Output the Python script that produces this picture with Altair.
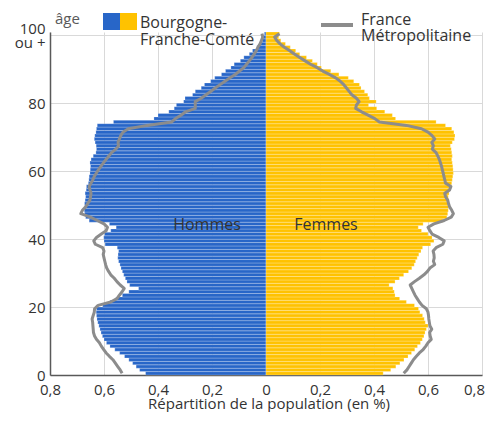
import altair as alt
import pandas as pd

ages = list(range(101))

hommes_bfc = [
    0.446, 0.468, 0.481, 0.494, 0.508, 0.524, 0.542, 0.560, 0.578, 0.591,
    0.600, 0.606, 0.611, 0.615, 0.619, 0.623, 0.626, 0.628, 0.629, 0.628,
    0.605, 0.578, 0.556, 0.532, 0.508, 0.472, 0.505, 0.515, 0.521, 0.527,
    0.532, 0.537, 0.541, 0.546, 0.549, 0.548, 0.546, 0.551, 0.596, 0.600,
    0.601, 0.598, 0.575, 0.555, 0.580, 0.655, 0.668, 0.672, 0.673, 0.671,
    0.672, 0.670, 0.668, 0.670, 0.666, 0.665, 0.658, 0.656, 0.655, 0.652,
    0.651, 0.650, 0.652, 0.648, 0.640, 0.630, 0.628, 0.629, 0.633, 0.636,
    0.634, 0.630, 0.628, 0.625, 0.565, 0.415, 0.400, 0.360, 0.340, 0.332,
    0.305, 0.300, 0.272, 0.262, 0.240, 0.228, 0.205, 0.190, 0.165, 0.150,
    0.130, 0.118, 0.095, 0.082, 0.062, 0.050, 0.034, 0.024, 0.014, 0.009,
    0.006,
]

femmes_bfc = [
    0.434, 0.462, 0.481, 0.496, 0.511, 0.526, 0.539, 0.551, 0.561, 0.572,
    0.579, 0.585, 0.589, 0.594, 0.600, 0.590, 0.586, 0.580, 0.570, 0.565,
    0.550, 0.520, 0.495, 0.478, 0.475, 0.470, 0.456, 0.478, 0.494, 0.510,
    0.528, 0.540, 0.549, 0.554, 0.560, 0.566, 0.574, 0.580, 0.610, 0.622,
    0.615, 0.600, 0.576, 0.564, 0.582, 0.655, 0.670, 0.673, 0.675, 0.676,
    0.674, 0.676, 0.675, 0.678, 0.680, 0.682, 0.688, 0.690, 0.692, 0.694,
    0.693, 0.692, 0.690, 0.688, 0.690, 0.688, 0.686, 0.683, 0.690, 0.698,
    0.700, 0.696, 0.688, 0.665, 0.630, 0.480, 0.468, 0.440, 0.410, 0.380,
    0.408, 0.383, 0.377, 0.365, 0.352, 0.346, 0.325, 0.305, 0.270, 0.240,
    0.205, 0.190, 0.172, 0.150, 0.125, 0.110, 0.090, 0.072, 0.055, 0.047,
    0.050,
]

hommes_fr = [
    0.533, 0.540, 0.549, 0.558, 0.567, 0.580, 0.592, 0.601, 0.610, 0.617,
    0.628, 0.635, 0.639, 0.640, 0.641, 0.642, 0.644, 0.640, 0.636, 0.635,
    0.622, 0.575, 0.552, 0.543, 0.533, 0.525, 0.540, 0.552, 0.562, 0.575,
    0.583, 0.590, 0.594, 0.597, 0.600, 0.603, 0.600, 0.605, 0.632, 0.638,
    0.628, 0.610, 0.592, 0.587, 0.600, 0.625, 0.650, 0.686, 0.680, 0.668,
    0.660, 0.652, 0.650, 0.648, 0.652, 0.655, 0.648, 0.641, 0.636, 0.628,
    0.620, 0.611, 0.602, 0.592, 0.582, 0.572, 0.556, 0.546, 0.548, 0.543,
    0.538, 0.530, 0.510, 0.440, 0.350, 0.335, 0.315, 0.298, 0.262, 0.262,
    0.262, 0.240, 0.222, 0.205, 0.188, 0.170, 0.152, 0.133, 0.114, 0.098,
    0.082, 0.072, 0.062, 0.052, 0.044, 0.036, 0.030, 0.022, 0.017, 0.012,
    0.015,
]

femmes_fr = [
    0.510, 0.522, 0.530, 0.538, 0.546, 0.557, 0.568, 0.582, 0.592, 0.600,
    0.612, 0.608, 0.606, 0.614, 0.607, 0.605, 0.603, 0.602, 0.600, 0.594,
    0.578, 0.568, 0.560, 0.552, 0.546, 0.540, 0.534, 0.550, 0.568, 0.585,
    0.598, 0.607, 0.625, 0.620, 0.623, 0.622, 0.619, 0.630, 0.655, 0.660,
    0.640, 0.615, 0.607, 0.600, 0.622, 0.660, 0.686, 0.694, 0.688, 0.680,
    0.676, 0.673, 0.665, 0.662, 0.680, 0.685, 0.665, 0.662, 0.659, 0.656,
    0.653, 0.650, 0.646, 0.642, 0.636, 0.630, 0.616, 0.620, 0.614, 0.625,
    0.615, 0.600, 0.576, 0.520, 0.420, 0.403, 0.378, 0.354, 0.332, 0.335,
    0.345, 0.335, 0.318, 0.308, 0.298, 0.288, 0.275, 0.258, 0.235, 0.210,
    0.190, 0.165, 0.145, 0.125, 0.105, 0.088, 0.068, 0.052, 0.040, 0.032,
    0.050,
]

x_ticks = [-0.8, -0.6, -0.4, -0.2, 0, 0.2, 0.4, 0.6, 0.8]
y_ticks = [0, 10, 20, 30, 40, 50, 60, 70, 80, 90, 100]

BLUE = "#2866C8"
YELLOW = "#FFC200"
GREY = "#8C8C8C"
TXT = "#333333"
FONT = "Open Sans"

rows = []
for a, h, f, hf, ff in zip(ages, hommes_bfc, femmes_bfc, hommes_fr, femmes_fr):
    rows.append({"age": a, "age1": a + 1, "agec": a + 0.5, "sexe": "Hommes",
                 "bfc": -h, "fr": -hf, "zero": 0})
    rows.append({"age": a, "age1": a + 1, "agec": a + 0.5, "sexe": "Femmes",
                 "bfc": f, "fr": ff, "zero": 0})
df = pd.DataFrame(rows)

x_scale = alt.Scale(domain=[-0.8, 0.8], nice=False, zero=False)
y_scale = alt.Scale(domain=[0, 101], nice=False, zero=False)

x_label_expr = "datum.value == 0 ? '0' : replace(format(abs(datum.value), '.1f'), '.', ',')"
y_label_expr = "datum.value == 100 ? ['100', 'ou +'] : datum.label"

base = alt.Chart(df)

bars = base.mark_bar(stroke="white", strokeWidth=0.4, strokeOpacity=0.6).encode(
    x=alt.X("bfc:Q", scale=x_scale,
            axis=alt.Axis(values=x_ticks, labelExpr=x_label_expr, title=None,
                          labelPadding=7, labelFlush=False, labelOverlap=False,
                          labelOffset={"condition": {"test": "datum.value > 0.7", "value": -8},
                                       "value": 0})),
    x2="zero:Q",
    y=alt.Y("age:Q", scale=y_scale,
            axis=alt.Axis(values=y_ticks, labelExpr=y_label_expr, title=None,
                          labelPadding=5, labelLineHeight=14, labelFlush=False,
                          labelOverlap=False,
                          labelOffset={"condition": {"test": "datum.value == 100", "value": -7},
                                       "value": 0})),
    y2="age1:Q",
    color=alt.Color("sexe:N", scale=alt.Scale(domain=["Hommes", "Femmes"], range=[BLUE, YELLOW]),
                    legend=None),
)

lines = base.mark_line(color=GREY, strokeWidth=3, strokeJoin="round").encode(
    x=alt.X("fr:Q", scale=x_scale),
    y=alt.Y("agec:Q", scale=y_scale),
    detail="sexe:N",
    order="age:Q",
)


def note(text, x, y, size=16, color=TXT, align="left", baseline="alphabetic"):
    return alt.Chart(alt.Data(values=[{"t": text}])).mark_text(
        font=FONT, fontSize=size, color=color, align=align, baseline=baseline
    ).encode(text="t:N", x=alt.value(x), y=alt.value(y))


def box(x1, x2, y1, y2, color):
    return alt.Chart(alt.Data(values=[{"k": 1}])).mark_rect(color=color).encode(
        x=alt.value(x1), x2=alt.value(x2), y=alt.value(y1), y2=alt.value(y2))


leg_line = alt.Chart(alt.Data(values=[{"k": 1}])).mark_rule(color=GREY, strokeWidth=4).encode(
    x=alt.value(271), x2=alt.value(303), y=alt.value(-7))

layers = [
    bars, lines,
    note("Hommes", 157, 193, align="center", baseline="middle"),
    note("Femmes", 276, 193, align="center", baseline="middle"),
    note("âge", 5, -8, size=15, color="#595959"),
    box(53, 70, -19, -2, BLUE),
    box(70, 87, -19, -2, YELLOW),
    note("Bourgogne-", 90, -4),
    note("Franche-Comté", 90, 13),
    leg_line,
    note("France", 311, -7),
    note("Métropolitaine", 311, 9),
    note("Répartition de la population (en %)", 219, 377, size=15, align="center"),
]

chart = alt.layer(*layers).properties(
    width=432, height=343,
    autosize=alt.AutoSizeParams(type="none"),
    padding={"left": 42, "top": 24, "right": 3, "bottom": 37},
).configure_view(stroke=None).configure_axis(
    grid=True, gridColor="#D9D9D9", gridWidth=1,
    domainColor="#595959", domainWidth=1.5,
    ticks=False,
    labelFont=FONT, labelFontSize=15, labelColor=TXT,
)

chart.save("out.html", embed_options={"renderer": "svg", "actions": False})
